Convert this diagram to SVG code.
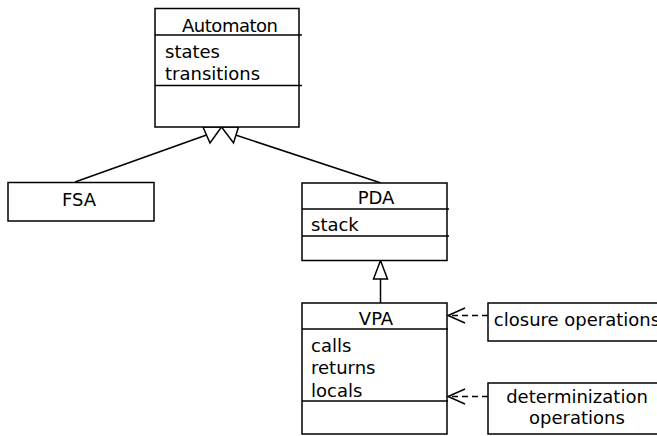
<svg xmlns="http://www.w3.org/2000/svg" width="657" height="436" viewBox="0 0 657 436">
<style>
.box{fill:#fff;stroke:#000;stroke-width:1.5}
.ln{stroke:#000;stroke-width:1.5;fill:none}
.tri{fill:#fff;stroke:#000;stroke-width:1.5;stroke-linejoin:miter}
.dash{stroke:#000;stroke-width:1.5;fill:none;stroke-dasharray:6,4}
text{font-family:"DejaVu Sans",Verdana,sans-serif;font-size:18px;fill:#000}
.c{text-anchor:middle}
</style>
<rect width="657" height="436" fill="#fff"/>
<g id="connectors">
<line class="ln" x1="75" y1="182" x2="206.5" y2="135"/>
<line class="ln" x1="381" y1="183" x2="235.5" y2="135"/>
<polygon class="tri" points="221.5,127 203,127 210,143"/>
<polygon class="tri" points="221.5,127 238.5,127 233.5,143"/>
<line class="ln" x1="380.5" y1="279" x2="380.5" y2="303"/>
<polygon class="tri" points="380.5,260.5 373.5,279 387.5,279"/>
<line class="dash" x1="488" y1="315.5" x2="449" y2="315.5"/>
<polyline class="ln" points="465,308 448,315.5 465,323"/>
<line class="dash" x1="488" y1="396.5" x2="449" y2="396.5"/>
<polyline class="ln" points="465,389 448,396.5 465,404"/>
</g>
<g id="automaton">
<rect class="box" x="155" y="8.5" width="144" height="118.5"/>
<line class="ln" x1="155" y1="35" x2="302" y2="35"/>
<line class="ln" x1="155" y1="85.5" x2="302" y2="85.5"/>
<text class="c" x="230" y="32" textLength="96">Automaton</text>
<text x="165" y="58">states</text>
<text x="165" y="80">transitions</text>
</g>
<g id="fsa">
<rect class="box" x="8" y="182.5" width="146" height="38.5"/>
<text class="c" x="79" y="206">FSA</text>
</g>
<g id="pda">
<rect class="box" x="302" y="183" width="145" height="77.5"/>
<line class="ln" x1="302" y1="209" x2="449" y2="209"/>
<line class="ln" x1="302" y1="236" x2="449" y2="236"/>
<text class="c" x="376" y="204">PDA</text>
<text x="311" y="231">stack</text>
</g>
<g id="vpa">
<rect class="box" x="302" y="303" width="145" height="131"/>
<line class="ln" x1="302" y1="329" x2="448" y2="329"/>
<line class="ln" x1="302" y1="401" x2="448" y2="401"/>
<text class="c" x="376" y="325">VPA</text>
<text x="311" y="352">calls</text>
<text x="311" y="374">returns</text>
<text x="311" y="397">locals</text>
</g>
<g id="closure">
<rect class="box" x="488" y="303" width="178" height="38"/>
<text class="c" x="577" y="326">closure operations</text>
</g>
<g id="determinization">
<rect class="box" x="488" y="383" width="178" height="51"/>
<text class="c" x="577" y="403">determinization</text>
<text class="c" x="577" y="424">operations</text>
</g>
</svg>
